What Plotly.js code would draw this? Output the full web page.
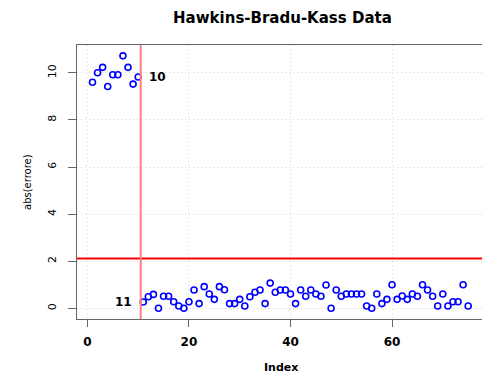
<!DOCTYPE html>
<html>
<head>
<meta charset="utf-8">
<script src="https://cdn.plot.ly/plotly-3.0.1.min.js"></script>
<style>html,body{margin:0;padding:0;background:#fff;}#chart{width:482px;height:375px;}</style>
</head>
<body>
<div id="chart"></div>
<script>
// Absolute residuals, observations 1..75
var absErrore = [
  9.60, 10.00, 10.23, 9.42, 9.92, 9.92, 10.72, 10.23, 9.52, 9.82,
  0.27, 0.49, 0.59, 0.00, 0.51, 0.51, 0.28, 0.10, 0.00, 0.28,
  0.78, 0.20, 0.92, 0.61, 0.38, 0.92, 0.79, 0.20, 0.20, 0.38,
  0.10, 0.49, 0.68, 0.78, 0.20, 1.07, 0.68, 0.78, 0.78, 0.61,
  0.20, 0.78, 0.51, 0.78, 0.61, 0.51, 0.99, 0.00, 0.78, 0.51,
  0.61, 0.61, 0.61, 0.61, 0.10, 0.00, 0.61, 0.20, 0.38, 1.00,
  0.38, 0.52, 0.38, 0.61, 0.51, 1.00, 0.78, 0.51, 0.10, 0.61,
  0.10, 0.28, 0.28, 1.00, 0.10
];
var index = absErrore.map(function(_, i){ return i + 1; });
var cutoff = 2.11;
var splitX = 10.5;
var xTicks = [0, 20, 40, 60];
var yTicks = [0, 2, 4, 6, 8, 10];
var labelLeft = {x: 11, text: "11"};
var labelRight = {x: 10, text: "10"};

var trace = {
  x: index, y: absErrore, type: 'scatter', mode: 'markers',
  marker: {symbol: 'circle-open', size: 6, color: '#0000ff', line: {width: 1.6, color: '#0000ff'}},
  hoverinfo: 'skip'
};

var layout = {
  width: 482, height: 375,
  margin: {l: 77, r: 0, t: 45, b: 56},
  paper_bgcolor: '#fff', plot_bgcolor: '#fff',
  showlegend: false,
  title: {text: 'Hawkins-Bradu-Kass Data', font: {family: 'DejaVu Sans', size: 15, color: '#000', weight: 'bold'},
          xref: 'container', x: 0.586, xanchor: 'center', yref: 'container', y: 0.952, yanchor: 'middle'},
  xaxis: {
    range: [-2.05, 77.72], tickvals: xTicks, ticktext: xTicks.map(String),
    showgrid: true, gridcolor: '#d4d4d4', griddash: '1px,3px', gridwidth: 1,
    zeroline: false, showline: true, linecolor: '#666', linewidth: 1, mirror: true,
    ticks: 'outside', ticklen: 7, tickcolor: '#666', ticklabelstandoff: 5,
    tickfont: {family: 'DejaVu Sans', size: 12, color: '#000', weight: 'bold'}
  },
  yaxis: {
    range: [-0.454, 11.18], tickvals: yTicks, ticktext: yTicks.map(String),
    showgrid: true, gridcolor: '#d4d4d4', griddash: '1px,3px', gridwidth: 1,
    zeroline: false, showline: true, linecolor: '#666', linewidth: 1, mirror: false,
    ticks: 'outside', ticklen: 8, tickcolor: '#666', tickangle: -90, ticklabelstandoff: 8,
    tickfont: {family: 'DejaVu Sans', size: 11, color: '#000'}
  },
  shapes: [
    {type: 'line', xref: 'paper', x0: 0, x1: 1, yref: 'y', y0: cutoff, y1: cutoff,
     line: {color: '#ff0000', width: 2}},
    {type: 'line', xref: 'x', x0: splitX, x1: splitX, yref: 'paper', y0: 0, y1: 1,
     line: {color: '#ff8080', width: 2}}
  ],
  annotations: [
    {x: labelRight.x, y: absErrore[labelRight.x - 1], xref: 'x', yref: 'y', text: labelRight.text,
     showarrow: false, xanchor: 'left', xshift: 9, font: {family: 'DejaVu Sans', size: 12, color: '#000', weight: 'bold'}},
    {x: labelLeft.x, y: absErrore[labelLeft.x - 1], xref: 'x', yref: 'y', text: labelLeft.text,
     showarrow: false, xanchor: 'right', xshift: -9, font: {family: 'DejaVu Sans', size: 12, color: '#000', weight: 'bold'}},
    {x: 0.5, y: 0, xref: 'paper', yref: 'paper', text: 'Index', showarrow: false,
     xanchor: 'center', yanchor: 'middle', yshift: -48, xshift: 1,
     font: {family: 'DejaVu Sans', size: 11, color: '#000', weight: 'bold'}},
    {x: 0, y: 0.5, xref: 'paper', yref: 'paper', text: 'abs(errore)', showarrow: false, textangle: -90,
     xanchor: 'center', yanchor: 'middle', xshift: -50,
     font: {family: 'DejaVu Sans', size: 10, color: '#000'}}
  ]
};

Plotly.newPlot('chart', [trace], layout, {staticPlot: true, displayModeBar: false});
</script>
</body>
</html>
